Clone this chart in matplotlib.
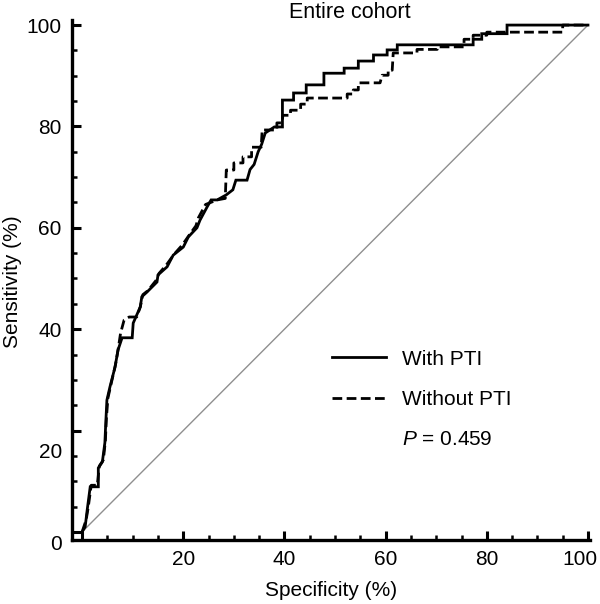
import matplotlib
matplotlib.use('Agg')
import matplotlib.pyplot as plt
from matplotlib.ticker import MultipleLocator, FixedLocator
import matplotlib.transforms as mtransforms
from matplotlib.lines import Line2D

plt.rcParams['font.family'] = ['Liberation Sans', 'DejaVu Sans']
plt.rcParams['mathtext.fontset'] = 'custom'
plt.rcParams['mathtext.it'] = 'Liberation Sans:italic'
plt.rcParams['mathtext.rm'] = 'Liberation Sans'

# ---- data (100 - specificity, sensitivity) ----
with_pti_x = [0, 0.6, 1.0, 1.6, 3.2, 3.2, 4.0, 4.5, 4.7, 4.9, 5.5, 6.5, 7.1, 7.9, 9.9,
              10.1, 11.5, 11.8, 12.8, 14.8, 15.0, 16.8, 18.0, 20.0, 21.0, 22.7, 23.3,
              24.7, 25.5, 26.7, 28.5, 29.8, 30.4, 32.6, 33.2, 34.0, 34.8, 35.5, 36.2,
              38.0, 39.6, 39.6, 41.8, 41.8, 44.3, 44.3, 47.8, 47.8, 51.8, 51.8, 54.6,
              54.6, 57.6, 57.6, 60.3, 60.3, 62.3, 62.3, 77.3, 77.3, 79.0, 79.0, 84.0,
              84.0, 100]
with_pti_y = [0, 1.0, 4.3, 8.9, 8.9, 12.6, 13.8, 17.6, 22.0, 26.0, 28.6, 32.5, 35.9, 38.3, 38.3,
              41.2, 44.4, 46.4, 47.3, 49.3, 50.7, 52.3, 54.6, 56.2, 58.2, 60.0, 61.5,
              64.1, 65.5, 65.5, 66.5, 67.5, 69.4, 69.4, 71.5, 72.5, 75.0, 76.5, 78.7,
              79.9, 79.9, 85.2, 85.2, 86.6, 86.6, 88.2, 88.2, 90.5, 90.5, 91.5, 91.5,
              92.9, 92.9, 94.1, 94.1, 95.1, 95.1, 96.1, 96.1, 97.2, 97.2, 98.3, 98.3,
              100, 100]

without_pti_x = [0, 0.8, 1.2, 1.8, 3.0, 3.4, 4.2, 4.6, 4.8, 5.1, 5.8, 6.6, 7.1, 7.6, 8.3,
                 9.3, 10.8, 11.5, 12.0, 13.0, 14.6, 15.2, 16.6, 18.2, 19.8, 21.2, 22.5,
                 23.0, 24.4, 26.7, 28.3, 28.5, 30.0, 30.0, 31.8, 31.8, 33.5, 33.5, 35.4,
                 35.6, 38.5, 38.5, 39.5, 39.7, 41.2, 41.2, 43.2, 43.2, 44.5, 44.5, 52.4,
                 52.4, 53.6, 53.6, 54.6, 54.6, 58.9, 59.3, 60.5, 60.5, 61.3, 61.5, 66.2,
                 66.2, 70.2, 70.2, 75.5, 75.5, 77.3, 77.3, 80.0, 80.0, 95.0, 95.0, 100]
without_pti_y = [0, 2.4, 4.8, 9.2, 9.2, 13.0, 14.2, 18.0, 22.4, 26.4, 29.5, 33.0, 35.9, 39.2, 41.8,
                 42.4, 42.4, 44.4, 46.8, 47.6, 49.6, 51.0, 52.6, 54.8, 56.6, 58.6, 60.4,
                 62.0, 64.6, 65.5, 65.8, 71.4, 71.4, 72.8, 72.8, 74.0, 74.0, 75.9, 75.9,
                 79.3, 79.3, 80.7, 80.7, 82.2, 82.2, 83.2, 83.2, 84.4, 84.4, 85.6, 85.6,
                 86.4, 86.4, 87.2, 87.2, 88.6, 88.6, 90.1, 90.1, 91.1, 91.1, 94.5, 94.5,
                 95.2, 95.2, 95.7, 95.7, 97.2, 97.2, 98.0, 98.0, 98.6, 98.6, 100, 100]

ref_x = [0, 100]
ref_y = [0, 100]

series_labels = ['With PTI', 'Without PTI']
p_text = '$P$ = 0.459'
x_ticks = [0, 20, 40, 60, 80, 100]
x_ticklabels = ['', '20', '40', '60', '80', '']
y_ticks = [0, 20, 40, 60, 80, 100]
y_ticklabels = ['', '', '40', '60', '80', '100']

FS = 15

fig = plt.figure(figsize=(6, 6.04), dpi=100)
ax = fig.add_axes([72/600, 64/604, 518/600, 520/604])

ax.plot(ref_x, ref_y, color='#8f8f8f', lw=1.0, zorder=1)
ax.plot(with_pti_x, with_pti_y, color='black', lw=2.0, solid_joinstyle='miter', zorder=3)
ax.plot(without_pti_x, without_pti_y, color='black', lw=2.0, ls=(0, (3.5, 1.6)), zorder=2)

ax.set_xlim(-2.0, 100.4)
ax.set_ylim(-1.6, 101)

for s in ['top', 'right']:
    ax.spines[s].set_visible(False)
for s in ['left', 'bottom']:
    ax.spines[s].set_linewidth(2.4)

ax.xaxis.set_major_locator(FixedLocator(x_ticks))
ax.yaxis.set_major_locator(FixedLocator(y_ticks))
ax.xaxis.set_minor_locator(MultipleLocator(5))
ax.yaxis.set_minor_locator(MultipleLocator(5))
ax.set_xticklabels(x_ticklabels)
ax.set_yticklabels(y_ticklabels)
ax.tick_params(which='major', direction='in', length=6.8, width=2.2, labelsize=FS)
ax.tick_params(which='minor', direction='in', length=3.4, width=1.8)
ax.tick_params(axis='y', which='major', pad=7.5)
ax.tick_params(axis='x', which='major', pad=7)

# offset tick labels as in the original
off = lambda dx, dy: mtransforms.ScaledTranslation(dx/100, dy/100, fig.dpi_scale_trans)
ax.text(0, 20, '20', transform=ax.get_yaxis_transform() + off(-9.5, -22),
        ha='right', va='center', fontsize=FS)
ax.text(0, 0, '0', transform=ax.get_yaxis_transform() + off(-10.5, -13),
        ha='right', va='center', fontsize=FS)
ax.text(100, 0, '100', transform=ax.get_xaxis_transform() + off(-8, -10),
        ha='center', va='top', fontsize=FS)

handles = [Line2D([], [], color='black', lw=2.0),
           Line2D([], [], color='black', lw=2.0, ls=(0, (3.5, 1.6))),
           Line2D([], [], color='none')]
ax.legend(handles, series_labels + [p_text], loc='upper left',
          bbox_to_anchor=(0.502, 0.366), frameon=False, borderpad=0, borderaxespad=0,
          handlelength=2.6, handletextpad=0.75, labelspacing=1.02, fontsize=FS)

fig.text(350/600, 1 - 12/604, 'Entire cohort', ha='center', va='center', fontsize=15.5)
fig.text(331/600, 1 - 590/604, 'Specificity (%)', ha='center', va='center', fontsize=15)
fig.text(13/600, 1 - 282/604, 'Sensitivity (%)', ha='center', va='center',
         rotation=90, fontsize=15)

fig.savefig('out.png', dpi=100)
